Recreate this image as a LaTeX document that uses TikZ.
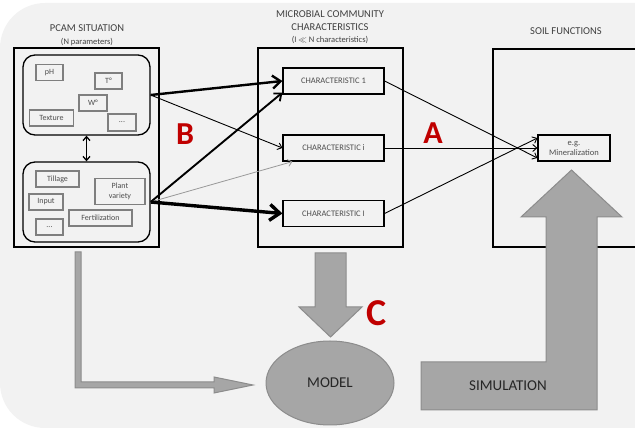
\documentclass[tikz,border=0pt]{standalone}
\usepackage{fontspec}
\setmainfont{Carlito}
\usetikzlibrary{arrows.meta,shapes.geometric}
\definecolor{bgc}{HTML}{F2F2F2}
\definecolor{txt}{HTML}{404040}
\definecolor{stxt}{HTML}{4D4D4D}
\definecolor{sbord}{HTML}{7F7F7F}
\definecolor{arrfill}{HTML}{A6A6A6}
\definecolor{arrdraw}{HTML}{8C8C8C}
\definecolor{redl}{HTML}{C00000}
\begin{document}
\begin{tikzpicture}[x=1pt,y=-1pt,
  frame/.style={draw=black, line width=1.3pt, inner sep=0pt},
  group/.style={draw=black, line width=1.3pt, rounded corners=12pt, inner sep=0pt},
  sbox/.style={draw=sbord, line width=1.2pt, inner sep=0pt, text=stxt, font=\fontsize{8}{10}\selectfont, align=center},
  cbox/.style={draw=black, line width=1.2pt, inner sep=0pt, minimum width=101pt, minimum height=26pt, text=stxt, font=\fontsize{8.5}{10}\selectfont},
  title/.style={text=txt, font=\fontsize{10.5}{13}\selectfont, align=center, inner sep=0pt},
  sub/.style={text=txt, font=\fontsize{8.5}{10}\selectfont, inner sep=0pt},
  letter/.style={text=redl, font=\fontsize{32}{32}\selectfont\bfseries, inner sep=0pt},
  thinarr/.style={line width=0.9pt, -{Straight Barb[length=4pt,width=7pt]}},
  faintarr/.style={draw=black!40, line width=0.8pt, -{Straight Barb[length=4pt,width=7pt]}},
  medarr/.style={line width=1.9pt, -{Straight Barb[length=6pt,width=10pt]}},
  thickarr/.style={line width=2.4pt, -{Straight Barb[length=8pt,width=13pt]}},
  vthickarr/.style={line width=3.4pt, -{Straight Barb[length=10pt,width=16pt]}},
  blockarr/.style={fill=arrfill, draw=arrdraw, line width=1pt, line join=miter},
]
\useasboundingbox (0,0) rectangle (635,430);
\fill[bgc, rounded corners=45pt] (0,3) rectangle (680,428);

% titles
\node[title] (t1) at (87,28) {PCAM SITUATION};
\node[sub] (t1s) at (87,42) {(N parameters)};
\node[title] (t2) at (330,21) {MICROBIAL COMMUNITY\\CHARACTERISTICS};
\node[sub] (t2s) at (330,40) {(I $\ll$ N characteristics)};
\node[title] (t3) at (566,31) {SOIL FUNCTIONS};

% PCAM frame
\node[frame, minimum width=145pt, minimum height=199pt] (pcam) at (86.5,147.5) {};
\node[group, minimum width=127pt, minimum height=80pt] (upper) at (86.5,95) {};
\node[group, minimum width=127pt, minimum height=80pt] (lower) at (86.5,202) {};
\node[sbox, minimum width=27pt, minimum height=16pt] (ph) at (49.5,72.5) {pH};
\node[sbox, minimum width=27pt, minimum height=16pt] (temp) at (108.5,81) {T°};
\node[sbox, minimum width=28pt, minimum height=16pt] (wat) at (93,103) {W°};
\node[sbox, minimum width=44pt, minimum height=16pt] (tex) at (51.5,118) {Texture};
\node[sbox, minimum width=28pt, minimum height=17pt] (dots1) at (122,122.5) {...};
\node[sbox, minimum width=43pt, minimum height=16pt] (till) at (57.5,179) {Tillage};
\node[sbox, minimum width=50pt, minimum height=26pt] (plant) at (120,191.5) {Plant\\variety};
\node[sbox, minimum width=34pt, minimum height=16pt] (inp) at (46,202) {Input};
\node[sbox, minimum width=63pt, minimum height=16pt] (fert) at (100.5,218) {Fertilization};
\node[sbox, minimum width=27pt, minimum height=16pt] (dots2) at (49.5,227) {...};
\draw[line width=1.3pt, {Straight Barb[length=4pt,width=7pt]}-{Straight Barb[length=4pt,width=7pt]}] (upper.south) -- (lower.north);

% microbial frame
\node[frame, minimum width=145pt, minimum height=199pt] (micro) at (330.5,147.5) {};
\node[cbox] (c1) at (333.5,81) {CHARACTERISTIC 1};
\node[cbox] (ci) at (333.5,148) {CHARACTERISTIC i};
\node[cbox] (cI) at (333.5,213.5) {CHARACTERISTIC I};

% soil frame
\draw[line width=1.3pt] (640,49) -- (493,49) -- (493,247) -- (640,247);
\node[sbox, draw=black, minimum width=72pt, minimum height=26pt, font=\fontsize{8.5}{10}\selectfont] (mine) at (574,148) {e.g.\\Mineralization};

% B arrows
\draw[thickarr] (upper.east) -- (c1.west);
\draw[thinarr] (upper.east) -- (ci.west);
\draw[medarr] (lower.east) -- ([yshift=2pt]c1.south west);
\draw[faintarr] (lower.east) -- ([xshift=10pt]ci.south west);
\draw[vthickarr] (lower.east) -- (cI.west);

% A arrows
\draw[thinarr] (c1.east) -- ([yshift=-10pt]mine.west);
\draw[thinarr] (ci.east) -- (mine.west);
\draw[thinarr] (cI.east) -- ([yshift=10pt]mine.west);

% letters
\node[letter] (lb) at (185,134) {B};
\node[letter] (la) at (433,133) {A};
\node[letter, font=\fontsize{38}{38}\selectfont\bfseries] (lc) at (377,313) {C};

% gray block arrows
\draw[blockarr] (315,253) -- (346,253) -- (346,307) -- (362,307) -- (330.5,337) -- (299,307) -- (315,307) -- cycle;
\node[ellipse, fill=arrfill, draw=arrdraw, line width=1pt, minimum width=128pt, minimum height=84pt, inner sep=0pt, text=black!85, font=\fontsize{15}{16}\selectfont] (model) at (330,383) {MODEL};
\draw[blockarr] (75,252) -- (81,252) -- (81,382) -- (214,382) -- (214,377) -- (253,385) -- (214,393) -- (214,388) -- (75,388) -- cycle;
\draw[blockarr] (421,362) -- (546,362) -- (546,217) -- (521,217) -- (571.5,170) -- (622,217) -- (597,217) -- (597,410) -- (421,410) -- cycle;
\node[text=black!85, font=\fontsize{15}{16}\selectfont, inner sep=0pt] (sim) at (508,386) {SIMULATION};
\end{tikzpicture}
\end{document}
